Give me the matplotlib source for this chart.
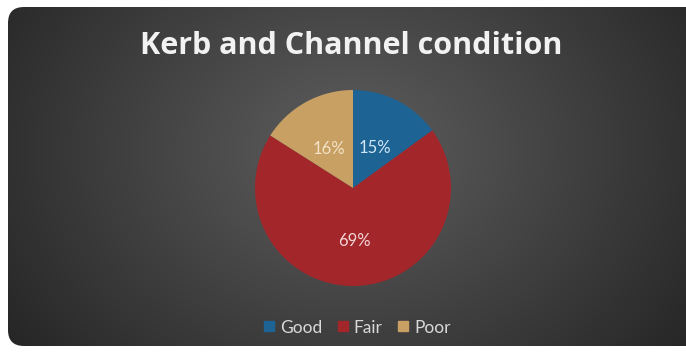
import numpy as np
import matplotlib.pyplot as plt
from matplotlib.patches import FancyBboxPatch
from matplotlib.lines import Line2D

# data
categories = ['Good', 'Fair', 'Poor']
values = [15, 69, 16]
colors = ['#1d6394', '#a3262b', '#c8a064']
label_colors = ['#cfe6f5', '#f4d6d6', '#f3e2c4']

W, H = 686, 356
fig = plt.figure(figsize=(W / 100, H / 100), dpi=100)
fig.patch.set_facecolor('white')

# background panel with radial gradient
bg = fig.add_axes([0, 0, 1, 1])
bg.set_xlim(0, W)
bg.set_ylim(H, 0)
bg.axis('off')
yy, xx = np.mgrid[0:H, 0:W]
d = np.sqrt(((xx - 350) / 380.0) ** 2 + ((yy - 150) / 300.0) ** 2)
shade = np.clip(0.37 - 0.2 * d, 0.14, 0.37)
img = np.dstack([shade, shade, shade])
im = bg.imshow(img, extent=(0, W, H, 0), zorder=1)
panel = FancyBboxPatch((8, 7), W + 20 - 8, 346 - 7,
                       boxstyle='round,pad=0,rounding_size=16',
                       facecolor='none', edgecolor='none', transform=bg.transData)
bg.add_patch(panel)
im.set_clip_path(panel)

fig.text(0.512, 0.872, 'Kerb and Channel condition', ha='center', va='center',
         color='#f2f2f2', fontsize=22, fontweight='bold', family='Open Sans')

# pie
R = 98
cx, cy = 353, 188
ax = fig.add_axes([(cx - R) / W, 1 - (cy + R) / H, 2 * R / W, 2 * R / H])
wedges, texts, autotexts = ax.pie(values, colors=colors, startangle=90, counterclock=False,
                                  autopct='%d%%', pctdistance=0.5,
                                  wedgeprops=dict(linewidth=0))
for t, c in zip(autotexts, label_colors):
    t.set_color(c)
    t.set_fontsize(12)
    t.set_family('Lato')
    x, y = t.get_position()
    t.set_position((x, y - 0.04))
ax.set_aspect('equal')
ax.set_xlim(-1, 1)
ax.set_ylim(-1, 1)

handles = [Line2D([], [], marker='s', linestyle='none', markersize=7,
                  markerfacecolor=c, markeredgecolor=c) for c in colors]
leg = fig.legend(handles, categories, loc='center', bbox_to_anchor=(0.52, 0.08),
                 ncol=3, frameon=False, handlelength=0.7, handletextpad=0.3,
                 columnspacing=0.8, prop={'family': 'Lato', 'size': 12.5})
for t in leg.get_texts():
    t.set_color('#d9d9d9')

plt.savefig('out.png', dpi=100)
